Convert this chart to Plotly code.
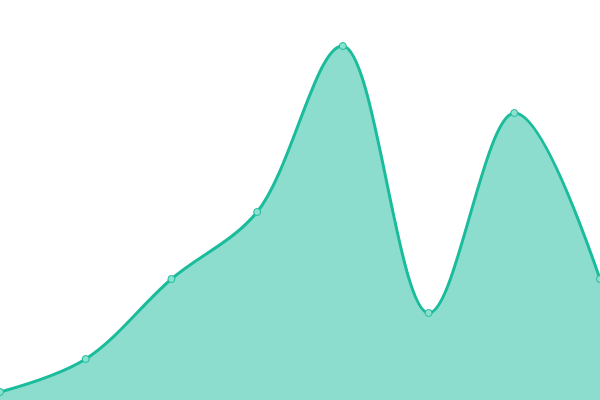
import plotly.graph_objects as go

# values (y axis runs 0..400)
x_vals = [0, 1, 2, 3, 4, 5, 6, 7]
y_vals = [8, 41, 121, 188, 354, 87, 287, 121]

fig = go.Figure(go.Scatter(
    x=x_vals,
    y=y_vals,
    mode="lines+markers",
    line=dict(color="#1abc9c", width=3, shape="spline", smoothing=1),
    fill="tozeroy",
    fillcolor="rgba(26,188,156,0.5)",
    marker=dict(size=7, color="#8ce0cf", line=dict(color="#1abc9c", width=1)),
    cliponaxis=True,
    hoverinfo="x+y",
))

fig.update_layout(
    width=600,
    height=400,
    margin=dict(l=0, r=0, t=0, b=0),
    paper_bgcolor="white",
    plot_bgcolor="white",
    showlegend=False,
    xaxis=dict(visible=False, range=[0, 7], fixedrange=True),
    yaxis=dict(visible=False, range=[0, 400], fixedrange=True),
)

# drop the browser's default body margin so the chart sits at the corner
fig.write_html(
    "out.html",
    config={"displayModeBar": False},
    post_script="document.body.style.margin='0';",
)
